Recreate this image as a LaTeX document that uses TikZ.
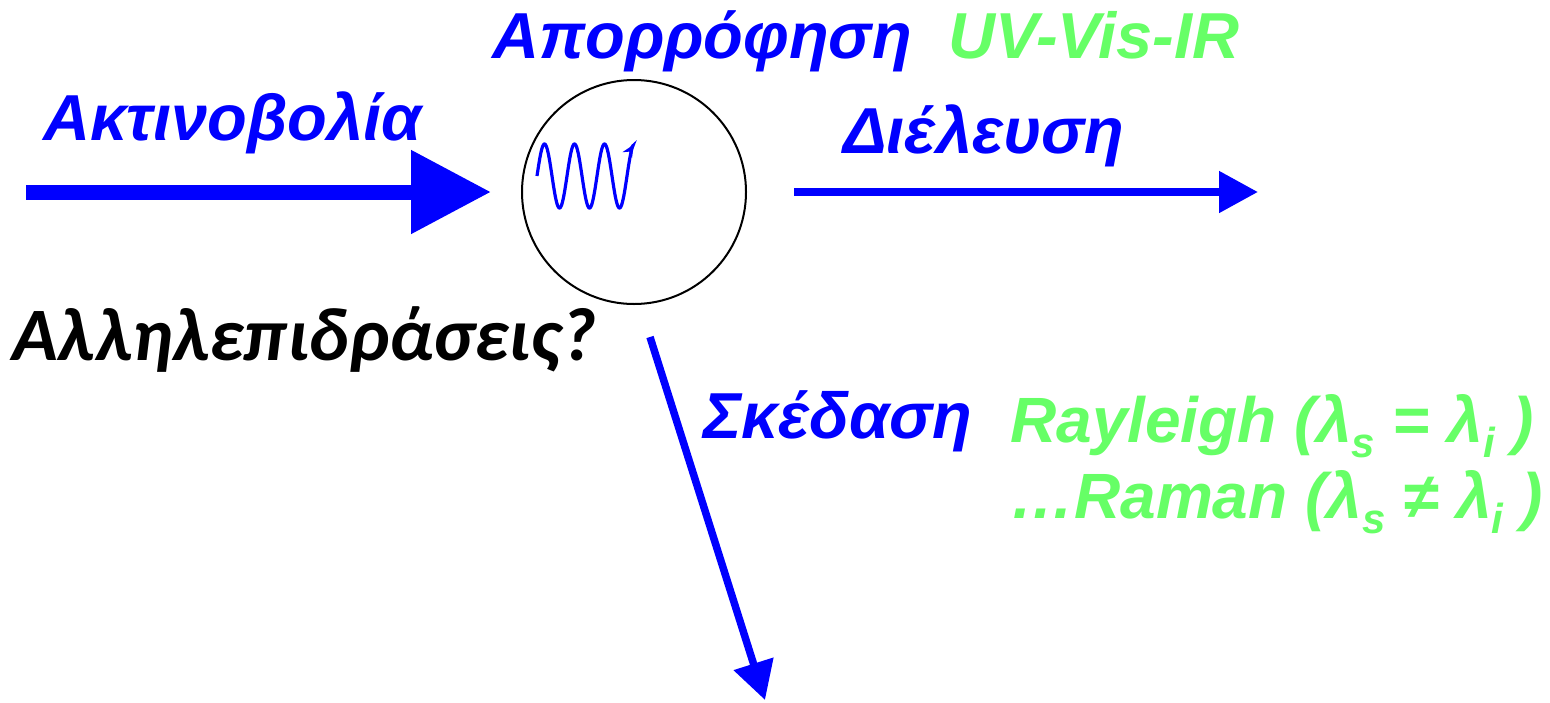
\documentclass[tikz,border=0pt]{standalone}
\usepackage{fontspec}
\setmainfont{Liberation Sans}
\newfontfamily\calfont{Carlito}
\usetikzlibrary{arrows.meta}
\definecolor{myblue}{RGB}{0,0,255}
\definecolor{mygreen}{RGB}{102,255,102}
\newcommand{\subs}[1]{\raisebox{-15pt}{\fontsize{42}{42}\selectfont #1}}
\begin{document}
\begin{tikzpicture}[x=1pt,y=-1pt,
  lbl/.style={anchor=base west,inner sep=0pt,font=\fontsize{65}{70}\selectfont\bfseries\itshape},
  bluelbl/.style={lbl,text=myblue},
  greenlbl/.style={lbl,text=mygreen},
  ray/.style={draw=myblue,fill=myblue}]
\useasboundingbox (0,0) rectangle (1550,702);
% coordinates
\coordinate (inA) at (26,192);
\coordinate (inB) at (491,192);
\coordinate (trA) at (794,192);
\coordinate (trB) at (1258,192);
\coordinate (scA) at (650,337);
\coordinate (scB) at (765,700);
% circle
\node (cell) [circle,draw=black,line width=2pt,minimum size=224pt,inner sep=0pt] at (634,192) {};
% wave
\draw[myblue,line width=3.2pt,-{Stealth[length=12pt,width=11pt]}] plot[domain=537:633.5,samples=160,smooth] (\x,{176-32*sin(12*(\x-537))});
% arrows
\draw[ray,line width=15pt,-{Triangle[length=80pt,width=80pt]}] (inA) -- (inB);
\draw[ray,line width=8pt,-{Triangle[length=39pt,width=40pt]}] (trA) -- (trB);
\draw[ray,line width=7.5pt,-{Triangle[length=38pt,width=40pt]}] (scA) -- (scB);
% labels
\node (t1) [bluelbl] at (43,140) {Ακτινοβολία};
\node (t2) [bluelbl] at (492,58) {Απορρόφηση};
\node (t3) [greenlbl] at (948,58) {UV-Vis-IR};
\node (t4) [bluelbl] at (843,153) {Διέλευση};
\node (t5) [anchor=base west,inner sep=0pt,text=black,font=\calfont\fontsize{75.5}{80}\selectfont\bfseries\itshape] at (12,360) {Αλληλεπιδράσεις?};
\node (t6) [bluelbl] at (703,438) {Σκέδαση};
\node (t7) [greenlbl,font=\fontsize{64}{70}\selectfont\bfseries\itshape] at (1010,442) {Rayleigh (λ\subs{s} = λ\subs{i} )};
\node (t8) [greenlbl,font=\fontsize{64}{70}\selectfont\bfseries\itshape] at (1010,518) {…Raman (λ\subs{s} ≠ λ\subs{i} )};
\end{tikzpicture}
\end{document}
